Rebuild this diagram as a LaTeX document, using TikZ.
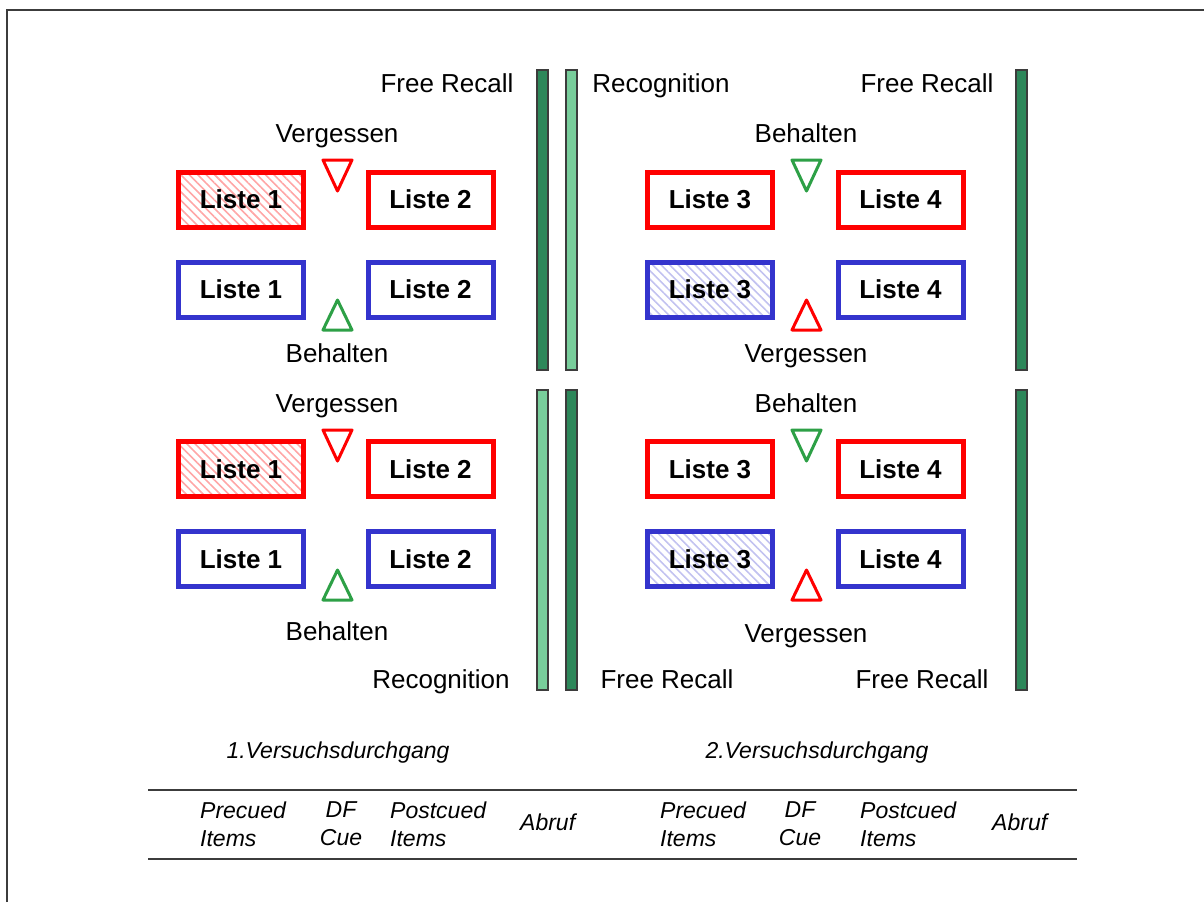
\documentclass[tikz,border=0pt]{standalone}
\usepackage{fontspec}
\setmainfont{Liberation Sans}
\usetikzlibrary{patterns.meta}
\definecolor{boxred}{RGB}{255,0,0}
\definecolor{boxblue}{RGB}{52,52,205}
\definecolor{trigreen}{RGB}{45,160,70}
\definecolor{bardark}{RGB}{45,135,90}
\definecolor{barlight}{RGB}{120,205,155}
\definecolor{rule}{RGB}{60,60,60}

\begin{document}
\begin{tikzpicture}[x=1pt,y=-1pt,
  liste/.style={draw, line width=5pt, minimum width=125pt, minimum height=55pt,
    inner sep=0pt, text height=18.6pt, text depth=0pt,
    font=\fontsize{26}{28}\selectfont\bfseries},
  redbox/.style={liste, draw=boxred},
  bluebox/.style={liste, draw=boxblue},
  redhatch/.style={pattern={Lines[angle=-45,distance=6pt,line width=1.6pt]}, pattern color=boxred!35},
  bluehatch/.style={pattern={Lines[angle=-45,distance=6pt,line width=1.6pt]}, pattern color=boxblue!30},
  lbl/.style={inner sep=0pt, text height=18.6pt, text depth=0pt,
    font=\fontsize{26}{28}\selectfont},
  head/.style={inner sep=0pt, text height=16.5pt, text depth=0pt,
    font=\fontsize{23}{27}\selectfont\itshape},
  cell/.style={inner sep=0pt, align=left, font=\fontsize{23}{28}\selectfont\itshape},
  ccell/.style={cell, align=center},
  bardk/.style={draw=rule, line width=1.5pt, fill=bardark},
  barlt/.style={draw=rule, line width=1.5pt, fill=barlight},
  tri/.style={line width=3pt, line join=round},
  frame/.style={draw=rule, line width=1.8pt}
]
\useasboundingbox (0,0) rectangle (1204,902);

% outer frame (left and top edges)
\draw[frame] (7,902) -- (7,10) -- (1204,10);

% ---------- upper half ----------
\node[lbl] (frA) at (447,83) {Free Recall};
\node[lbl] (recA) at (661,83) {Recognition};
\node[lbl] (frB) at (927,83) {Free Recall};
\draw[bardk] (537,70) rectangle (548,370);
\draw[barlt] (566,70) rectangle (577,370);
\draw[bardk] (1016,70) rectangle (1027,370);

% list 1 / list 2
\node[lbl] (vgA) at (337,133) {Vergessen};
\draw[tri, boxred] (323,160) -- (352,160) -- (337.5,191) -- cycle;
\node[redbox, redhatch] (l1a) at (241,199.5) {Liste 1};
\node[redbox] (l2a) at (430.5,199.5) {Liste 2};
\node[bluebox] (l1b) at (241,289.5) {Liste 1};
\node[bluebox] (l2b) at (430.5,289.5) {Liste 2};
\draw[tri, trigreen] (337.5,300) -- (352,330) -- (323,330) -- cycle;
\node[lbl] (bhA) at (337,353) {Behalten};

% list 3 / list 4
\node[lbl] (bhB) at (806,133) {Behalten};
\draw[tri, trigreen] (792,160) -- (821,160) -- (806.5,191) -- cycle;
\node[redbox] (l3a) at (710,199.5) {Liste 3};
\node[redbox] (l4a) at (900.5,199.5) {Liste 4};
\node[bluebox, bluehatch] (l3b) at (710,289.5) {Liste 3};
\node[bluebox] (l4b) at (900.5,289.5) {Liste 4};
\draw[tri, boxred] (806.5,300) -- (821,330) -- (792,330) -- cycle;
\node[lbl] (vgB) at (806,353) {Vergessen};

% ---------- lower half ----------
\draw[barlt] (537,390) rectangle (548,690);
\draw[bardk] (566,390) rectangle (577,690);
\draw[bardk] (1016,390) rectangle (1027,690);

\node[lbl] (vgC) at (337,403) {Vergessen};
\draw[tri, boxred] (323,430) -- (352,430) -- (337.5,461) -- cycle;
\node[redbox, redhatch] (l1c) at (241,469) {Liste 1};
\node[redbox] (l2c) at (430.5,469) {Liste 2};
\node[bluebox] (l1d) at (241,559) {Liste 1};
\node[bluebox] (l2d) at (430.5,559) {Liste 2};
\draw[tri, trigreen] (337.5,570) -- (352,600) -- (323,600) -- cycle;
\node[lbl] (bhC) at (337,631) {Behalten};

\node[lbl] (bhD) at (806,403) {Behalten};
\draw[tri, trigreen] (792,430) -- (821,430) -- (806.5,461) -- cycle;
\node[redbox] (l3c) at (710,469) {Liste 3};
\node[redbox] (l4c) at (900.5,469) {Liste 4};
\node[bluebox, bluehatch] (l3d) at (710,559) {Liste 3};
\node[bluebox] (l4d) at (900.5,559) {Liste 4};
\draw[tri, boxred] (806.5,570) -- (821,600) -- (792,600) -- cycle;
\node[lbl] (vgD) at (806,633) {Vergessen};

\node[lbl] (recB) at (441,679) {Recognition};
\node[lbl] (frC) at (667,679) {Free Recall};
\node[lbl] (frD) at (922,679) {Free Recall};

% ---------- trial headings and timeline ----------
\node[head] (run1) at (338,750) {1.Versuchsdurchgang};
\node[head] (run2) at (817,750) {2.Versuchsdurchgang};

\draw[draw=rule, line width=1.6pt] (148,790) -- (1077,790);
\draw[draw=rule, line width=1.6pt] (148,859) -- (1077,859);

\node[cell, anchor=west] (pre1) at (200,824) {Precued\\Items};
\node[ccell] (df1) at (341,824) {DF\\Cue};
\node[cell, anchor=west] (post1) at (390,824) {Postcued\\Items};
\node[cell, anchor=west] (ab1) at (520,822) {Abruf};

\node[cell, anchor=west] (pre2) at (660,824) {Precued\\Items};
\node[ccell] (df2) at (800,824) {DF\\Cue};
\node[cell, anchor=west] (post2) at (860,824) {Postcued\\Items};
\node[cell, anchor=west] (ab2) at (992,822) {Abruf};
\end{tikzpicture}
\end{document}
